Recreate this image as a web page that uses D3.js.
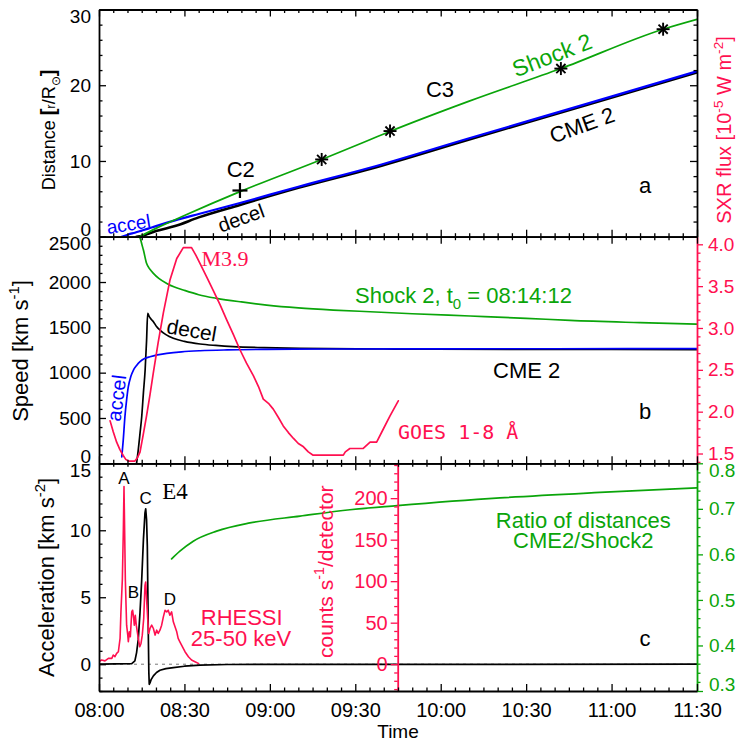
<!DOCTYPE html>
<html><head><meta charset="utf-8">
<script src="https://cdn.jsdelivr.net/npm/d3@7"></script>
<style>
body{margin:0;background:#fff}
svg{display:block}
text{font-family:"Liberation Sans",Arial,sans-serif}
</style></head><body>
<script>
// ---------- DATA (time in minutes after 08:00 UT) ----------
const timeTicks = [0, 30, 60, 90, 120, 150, 180, 210];
const timeLabels = ["08:00","08:30","09:00","09:30","10:00","10:30","11:00","11:30"];

// Panel a: distance [R_sun]
const shockDist = [[14.2,0],[20,1.1],[30,2.8],[49.5,5.95],[78.2,10.2],[95.1,12.8],[102.2,13.9],[130,17.9],[162.2,22.2],[198.1,27.4],[210,28.7]];
const cmeAccelDist = [[8,0],[10.3,0.3],[12.6,0.53],[15,0.8],[17.3,1.06],[20,1.4],[26.7,2.15],[35,3.0],[49.5,4.45],[70,6.6],[95.1,9.1],[130,13.0],[170,17.4],[210,21.85]];
const cmeDecelDist = [[13.2,0],[15,0.1],[17,0.35],[20,0.75],[26.7,1.4],[35,2.55],[49.5,4.2],[70,6.45],[95.1,8.95],[130,12.85],[170,17.25],[210,21.7]];
const c2Points = [[49.5,6.1]];
const c3Points = [[78.2,10.2],[102.2,13.95],[162.2,22.2],[198.1,27.4]];

// Panel b: speed [km/s] and GOES SXR flux [1e-5 W m^-2]
const shockSpeed = [[14.2,2500],[14.6,2470],[15.1,2410],[15.6,2353],[16.7,2206],[17.9,2140],[19.1,2096],[21,2040],[23.8,1985],[26.5,1945],[29.6,1912],[35,1860],[41.3,1820],[50,1780],[58.9,1746],[70,1715],[82.3,1691],[95.2,1672],[110,1650],[130.3,1625],[150,1600],[165.4,1576],[190,1552],[210,1536]];
const cmeAccelSpeed = [[8.0,70],[8.5,250],[9.1,514],[9.7,700],[10.3,845],[11.2,960],[12.1,1029],[13.2,1080],[14.4,1121],[16,1155],[17.9,1176],[20.5,1197],[23.8,1213],[29,1230],[35.5,1242],[45,1251],[58.9,1257],[80,1261],[120,1263],[160,1264],[210,1265]];
const cmeDecelSpeed = [[13.2,0],[13.8,150],[14.4,330],[15.0,514],[15.6,780],[16.2,1029],[16.7,1350],[17.1,1654],[17.6,1620],[18.3,1590],[19.1,1562],[20.2,1510],[21.4,1470],[23.5,1420],[26.1,1379],[30,1345],[35.5,1316],[41,1300],[47.2,1287],[58,1276],[70.6,1268],[100,1261],[150,1257],[210,1254]];
const goesFlux = [[3.9,1.89],[5.0,1.76],[6.2,1.635],[7.3,1.55],[8.5,1.476],[9.4,1.43],[10.3,1.41],[12.6,1.41],[13.5,1.45],[14.4,1.517],[15.5,1.72],[16.7,1.95],[17.9,2.2],[19.1,2.47],[20.8,2.83],[22.6,3.18],[24.9,3.57],[27.3,3.83],[29.6,3.96],[32.5,3.96],[34.0,3.87],[35.5,3.77],[37.8,3.61],[40.1,3.45],[42.5,3.28],[44.8,3.10],[47.2,2.92],[49.5,2.74],[51.8,2.58],[54.2,2.43],[56.0,2.3],[57.7,2.15],[59.5,2.1],[61.2,2.03],[63.0,1.93],[64.7,1.83],[66.5,1.75],[68.3,1.68],[70.0,1.62],[71.8,1.58],[73.5,1.52],[75.2,1.48],[85.8,1.48],[86.5,1.52],[88.1,1.56],[92.8,1.56],[95.2,1.635],[97.5,1.635],[99.8,1.79],[102.2,1.95],[105.1,2.13]];

// Panel c: acceleration [km/s^2], RHESSI counts, distance ratio
const cmeAccel = [[0,0],[11.5,0.05],[12.6,0.25],[13.2,0.87],[13.8,1.87],[14.4,3.86],[15.0,6.3],[15.6,9.3],[16.15,11.3],[16.4,11.6],[16.7,10.8],[16.97,8.8],[17.3,2.6],[17.5,-0.6],[17.65,-1.5],[17.9,-1.4],[18.3,-1.15],[19.1,-0.87],[20.2,-0.62],[21.4,-0.45],[23.5,-0.33],[26.1,-0.25],[30,-0.15],[35.5,-0.07],[45,-0.02],[210,0]];
const rhessiT = [0,0.9,2.1,3.3,4.5,5.0,5.6,6.2,6.8,7.4,7.7,8.2,8.55,8.78,9.0,9.25,9.5,9.7,10.1,10.3,10.65,11.0,11.5,11.8,12.2,12.4,12.75,13.1,13.45,13.8,14.3,14.75,15.2,15.7,16.15,16.4,16.7,17.1,17.45,17.9,18.5,19.1,19.7,20.25,20.8,21.4,22.0,22.6,23.2,23.8,24.3,24.9,25.5,26.1,26.7,27.3,27.8,28.4,29.0,30.2,31.4,32.5,33.7,34.9];
const rhessiCounts = [3,5,4,7,7,11,9,13,15,31,63,102,162,214,162,102,71,47,35,27,39,33,63,65,55,47,59,47,39,31,21,25,35,55,95,99,79,55,37,43,47,43,35,41,37,41,47,57,65,63,65,59,63,51,45,39,31,27,23,15,9,5,3,1];
const distRatio = [[25.5,0.590],[28.4,0.607],[33.1,0.629],[41.3,0.651],[53.0,0.669],[70.6,0.684],[88.1,0.698],[104.7,0.707],[140.8,0.724],[175.9,0.736],[209.9,0.746]];

// ---------- LAYOUT ----------
const W = 743, H = 744;
const X0 = 99, X1 = 697;
const PA = [9.5, 236.7], PB = [236.7, 463.3], PC = [463.3, 691];
const RED = "#ff1050", GREEN = "#0aa50a", BLUE = "#0000ff", BLACK = "#000";

const svg = d3.select("body").append("svg").attr("width", W).attr("height", H);

const x = d3.scaleLinear().domain([0, 210]).range([X0, X1]);
const yDist = d3.scaleLinear().domain([0, 30]).range([PA[1], PA[0]]);
const ySpeed = d3.scaleLinear().domain([0, 2500]).range([PB[1], PB[0]]);
const ySxr = d3.scaleLinear().domain([1.383, 4.091]).range([PB[1], PB[0]]);
const yAcc = d3.scaleLinear().domain([-2, 15]).range([PC[1], PC[0]]);
const yCnt = d3.scaleLinear().domain([-32.3, 242]).range([PC[1], PC[0]]);
const yRat = d3.scaleLinear().domain([0.3, 0.8]).range([PC[1], PC[0]]);

const step = (a, b, s) => d3.range(Math.round(a / s), Math.round(b / s) + 1).map(k => +(k * s).toFixed(6));
const minorOf = (all, major) => all.filter(v => !major.some(m => Math.abs(m - v) < 1e-6));

const timeMinor = minorOf(step(0, 210, 5), timeTicks);

// ---------- AXIS HELPER ----------
function axis(orient, scale, at, major, minor, o) {
  const gen = {left: d3.axisLeft, right: d3.axisRight, top: d3.axisTop, bottom: d3.axisBottom}[orient];
  const sgn = o.inward ? -1 : 1;
  const vert = orient === "left" || orient === "right";
  const tr = vert ? `translate(${at},0)` : `translate(0,${at})`;
  const color = o.color || BLACK;
  const gm = svg.append("g").attr("transform", tr)
    .call(gen(scale).tickValues(minor).tickSize(sgn * (o.minorLen || 3.5)).tickSizeOuter(0).tickFormat(""));
  gm.select(".domain").remove();
  gm.attr("color", color).selectAll("line").attr("stroke-width", 1.3);
  const gM = svg.append("g").attr("transform", tr)
    .call(gen(scale).tickValues(major).tickSize(sgn * (o.majorLen || 7)).tickSizeOuter(0)
      .tickPadding(o.pad || 6).tickFormat(o.fmt || (() => "")));
  gM.attr("color", color).attr("font-family", null).attr("font-size", null);
  gM.selectAll("line").attr("stroke-width", 1.3);
  gM.select(".domain").attr("stroke-width", 1.8);
  gM.selectAll("text").style("font-size", (o.font || 19) + "px")
    .style("font-family", '"Liberation Sans",Arial,sans-serif');
  if (vert && o.fmt) {
    const r = scale.range(), top = Math.min(...r), bot = Math.max(...r);
    gM.selectAll(".tick text").attr("y", d => {
      const p = scale(d);
      if (p - top < 7) return 7 - (p - top);
      if (bot - p < 7) return -(7 - (bot - p));
      return 0;
    });
  }
  return gM;
}

// ---------- CLIPS ----------
function clip(id, y0, y1) {
  svg.append("clipPath").attr("id", id).append("rect")
    .attr("x", X0).attr("y", y0).attr("width", X1 - X0).attr("height", y1 - y0);
}
clip("ca", PA[0], PA[1]); clip("cb", PB[0], PB[1]); clip("cc", PC[0], PC[1]);

function curve(clipId, data, ys, color, width, smooth) {
  const line = d3.line().x(d => x(d[0])).y(d => ys(d[1])).curve(smooth ? d3.curveMonotoneX : d3.curveLinear);
  svg.append("path").attr("clip-path", `url(#${clipId})`).attr("d", line(data))
    .attr("fill", "none").attr("stroke", color).attr("stroke-width", width)
    .attr("stroke-linejoin", "round").attr("stroke-linecap", "round");
}

// ---------- TEXT HELPER ----------
function txt(xp, yp, parts, o) {
  o = o || {};
  const t = svg.append("text").attr("transform", `translate(${xp},${yp}) rotate(${o.rot || 0})`)
    .attr("text-anchor", o.anchor || "middle").attr("fill", o.color || BLACK)
    .style("font-size", (o.size || 22) + "px");
  if (o.family) t.style("font-family", o.family);
  if (o.dy) t.attr("dy", o.dy);
  let shift = 0;
  parts.forEach(p => {
    const s = typeof p === "string" ? {t: p} : p;
    const sp = t.append("tspan").text(s.t);
    let target = 0;
    if (s.sup) target = -(o.size || 22) * 0.42;
    if (s.sub) target = (o.size || 22) * 0.28;
    if (s.sup || s.sub) sp.style("font-size", ((o.size || 22) * 0.68) + "px");
    if (s.size) sp.style("font-size", s.size + "px");
    if (s.weight) sp.style("font-weight", s.weight);
    if (target !== shift) { sp.attr("dy", target - shift); shift = target; }
  });
  return t;
}

// ---------- PANEL A ----------
curve("ca", cmeDecelDist, yDist, BLACK, 2.6, true);
curve("ca", cmeAccelDist, yDist, BLUE, 2.2, true);
curve("ca", shockDist, yDist, GREEN, 1.7, true);

// C3 asterisks
c3Points.forEach(p => {
  const cx = x(p[0]), cy = yDist(p[1]), r = 6.5;
  const g = svg.append("g").attr("stroke", BLACK).attr("stroke-width", 1.9);
  [0, 45, 90, 135].forEach(a => {
    const dx = r * Math.cos(a * Math.PI / 180), dy = r * Math.sin(a * Math.PI / 180);
    g.append("line").attr("x1", cx - dx).attr("y1", cy - dy).attr("x2", cx + dx).attr("y2", cy + dy);
  });
});
// C2 plus
c2Points.forEach(p => {
  const cx = x(p[0]), cy = yDist(p[1]), r = 7.5;
  const g = svg.append("g").attr("stroke", BLACK).attr("stroke-width", 2.2);
  g.append("line").attr("x1", cx - r).attr("x2", cx + r).attr("y1", cy).attr("y2", cy);
  g.append("line").attr("x1", cx).attr("x2", cx).attr("y1", cy - r).attr("y2", cy + r);
});

txt(240.7, 169, ["C2"], {dy: "0.35em"});
txt(440, 89, ["C3"], {dy: "0.35em"});
txt(552, 55, ["Shock 2"], {color: GREEN, rot: -21, dy: "0.35em", size: 23});
txt(582, 125, ["CME 2"], {rot: -20, dy: "0.35em"});
txt(645, 185, ["a"], {dy: "0.35em"});
txt(128.5, 224, ["accel"], {color: BLUE, rot: -9, dy: "0.35em", size: 19});
txt(241, 218, ["decel"], {rot: -20, dy: "0.35em", size: 20});

// Axes panel a
const distMajor = [0, 10, 20, 30];
const distMinor = minorOf(step(0, 30, 2), distMajor);
axis("left", yDist, X0, distMajor, distMinor, {inward: true, fmt: d => d, pad: 8});
axis("right", yDist, X1, distMajor, distMinor, {inward: true});
axis("top", x, PA[0], timeTicks, timeMinor, {inward: true});
axis("bottom", x, PA[1], timeTicks, timeMinor, {inward: true});

txt(55, 130, ["Distance  ", {t: "[", size: 20, weight: "bold"}, {t: "r", size: 13}, {t: "/R", size: 18},
  {t: "⊙", sub: true}, {t: "]", size: 20, weight: "bold"}], {rot: -90, size: 18});
txt(731, 130, ["SXR flux [10", {t: "-5", sup: true}, " W m", {t: "-2", sup: true}, "]"], {rot: -90, size: 20, color: RED});

// ---------- PANEL B ----------
curve("cb", cmeDecelSpeed, ySpeed, BLACK, 1.7, true);
curve("cb", cmeAccelSpeed, ySpeed, BLUE, 1.7, true);
curve("cb", shockSpeed, ySpeed, GREEN, 1.7, true);
curve("cb", goesFlux, ySxr, RED, 1.7, false);

txt(225, 258.5, ["M3.9"], {color: RED, family: '"Liberation Serif","Times New Roman",serif', dy: "0.35em", size: 22});
txt(191.7, 330, ["decel"], {rot: 10, dy: "0.35em", size: 21});
txt(116.5, 398, ["accel"], {rot: -83, color: BLUE, dy: "0.35em", size: 20});
txt(355, 303, ["Shock 2, t", {t: "0", sub: true}, " = 08:14:12"], {anchor: "start", color: GREEN, size: 22});
txt(526.7, 370, ["CME 2"], {dy: "0.35em"});
txt(645, 411.7, ["b"], {dy: "0.35em"});
txt(398, 431.7, ["GOES 1-8 Å"], {anchor: "start", color: RED, family: '"DejaVu Sans Mono",monospace', dy: "0.35em", size: 20});

const spMajor = [0, 500, 1000, 1500, 2000, 2500];
const spMinor = minorOf(step(0, 2500, 100), spMajor);
axis("left", ySpeed, X0, spMajor, spMinor, {inward: true, fmt: d => d, pad: 8});
const sxMajor = [1.5, 2.0, 2.5, 3.0, 3.5, 4.0];
const sxMinor = minorOf(step(1.4, 4.0, 0.1), sxMajor);
axis("right", ySxr, X1, sxMajor, sxMinor, {color: RED, fmt: d3.format(".1f"), pad: 5, majorLen: 6, minorLen: 3.5});
axis("top", x, PB[0], timeTicks, timeMinor, {inward: true});
axis("bottom", x, PB[1], timeTicks, timeMinor, {inward: true});

txt(28, 351, ["Speed [km s", {t: "-1", sup: true}, "]"], {rot: -90, size: 22});

// ---------- PANEL C ----------
svg.append("line").attr("x1", X0).attr("x2", X1).attr("y1", yAcc(0)).attr("y2", yAcc(0))
  .attr("stroke", "#777").attr("stroke-width", 1).attr("stroke-dasharray", "3,4");
curve("cc", cmeAccel, yAcc, BLACK, 1.7, false);
curve("cc", rhessiT.map((t, i) => [t, rhessiCounts[i]]), yCnt, RED, 1.6, false);
curve("cc", distRatio, yRat, GREEN, 1.7, true);

txt(124, 478.5, ["A"], {dy: "0.35em", size: 17});
txt(133.3, 591.7, ["B"], {dy: "0.35em", size: 17});
txt(145.7, 498.3, ["C"], {dy: "0.35em", size: 17});
txt(170, 599, ["D"], {dy: "0.35em", size: 17});
txt(175, 491, ["E4"], {family: '"Liberation Serif","Times New Roman",serif', dy: "0.35em", size: 23});
txt(241.7, 617, ["RHESSI"], {color: RED, dy: "0.35em", size: 22});
txt(241, 638, ["25-50 keV"], {color: RED, dy: "0.35em", size: 22});
txt(583.3, 520, ["Ratio of distances"], {color: GREEN, dy: "0.35em", size: 22});
txt(583.3, 540.5, ["CME2/Shock2"], {color: GREEN, dy: "0.35em", size: 22});
txt(645, 638.3, ["c"], {dy: "0.35em"});

const accMajor = [0, 5, 10, 15];
const accMinor = minorOf(step(-2, 15, 1), accMajor);
axis("left", yAcc, X0, accMajor, accMinor, {inward: true, fmt: d => d, pad: 8});
const cntMajor = [0, 50, 100, 150, 200];
const cntMinor = minorOf(step(-30, 240, 10), cntMajor);
axis("left", yCnt, 397.7, cntMajor, cntMinor, {color: RED, fmt: d => d, pad: 3, majorLen: 7, minorLen: 3.5, font: 20});
const ratMajor = [0.3, 0.4, 0.5, 0.6, 0.7, 0.8];
const ratMinor = minorOf(step(0.3, 0.8, 0.02), ratMajor);
axis("right", yRat, X1, ratMajor, ratMinor, {color: GREEN, fmt: d3.format(".1f"), pad: 6, majorLen: 6, minorLen: 3.5});
axis("top", x, PC[0], timeTicks, timeMinor, {inward: true});
axis("bottom", x, PC[1], timeTicks, timeMinor, {inward: true, fmt: (d, i) => timeLabels[i], pad: 12, font: 20});

txt(54, 577.5, ["Acceleration [km s", {t: "-2", sup: true}, "]"], {rot: -90, size: 22});
txt(333, 571.7, ["counts s", {t: "-1", sup: true}, "/detector"], {rot: -90, size: 21, color: RED});
txt(398, 738, ["Time"], {size: 19});
</script>
</body></html>
